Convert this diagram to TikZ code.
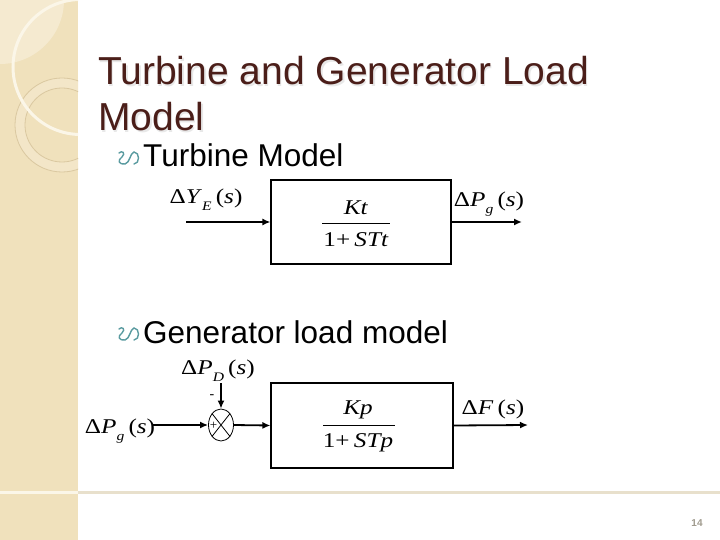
\documentclass[tikz,border=0pt]{standalone}
\usepackage{fontspec}
\usepackage{graphicx}
\setmainfont{Liberation Sans}
\newfontfamily\tms{Liberation Serif}
\usetikzlibrary{arrows.meta,shapes.geometric}
\definecolor{stripc}{RGB}{240,225,188}
\definecolor{striplight}{RGB}{245,234,208}
\definecolor{arcwhite}{RGB}{251,246,232}
\definecolor{ringline}{RGB}{218,200,160}
\definecolor{ringfill}{RGB}{243,230,200}
\definecolor{rulec}{RGB}{232,224,204}
\definecolor{titlec}{RGB}{75,30,25}
\definecolor{bulletc}{RGB}{90,155,160}
\definecolor{pagec}{RGB}{160,155,142}
\newcommand\eqf{\tms\fontsize{21}{21}\selectfont}
\newcommand\sx[1]{\scalebox{1.2}[1]{#1}}
\newcommand\sub[1]{\raisebox{-0.35em}{\fontsize{13}{13}\selectfont\textit{#1}}}
\tikzset{
  arr/.style={line width=1.8pt,-{Latex[length=8pt,width=7pt]}},
  blockbox/.style={draw,line width=1.1pt,rectangle,inner sep=0pt},
  eqlabel/.style={inner sep=0pt,font=\eqf},
  bullettext/.style={anchor=base west,inner sep=0pt,font=\fontsize{31.5}{31.5}\selectfont},
  bulletmark/.style={bulletc,line width=1.4pt,line cap=round},
  titletext/.style={anchor=base west,inner sep=0pt,font=\fontsize{39}{39}\selectfont}
}
\begin{document}
\begin{tikzpicture}[x=1pt,y=-1pt]
\useasboundingbox (0,0) rectangle (720,540);
\fill[white] (0,0) rectangle (720,540);
% left strip
\fill[stripc] (0,0) rectangle (78,540);
\begin{scope}
  \clip (0,0) rectangle (78,540);
  \fill[striplight] (0,0) circle (64);
  \fill[ringfill,even odd rule] (62,125) circle (47) (62,125) circle (37);
  \draw[ringline,line width=0.8pt] (62,125) circle (47) (62,125) circle (37);
  \draw[arcwhite,line width=3pt] (80.5,67) circle (67.5);
  \draw[arcwhite,line width=3pt] (0,492) -- (78,492);
\end{scope}
\draw[rulec,line width=3pt] (78,492) -- (720,492);
% title
\node[titletext,text=black!9] at (99.5,86.5) {Turbine and Generator Load};
\node[titletext,text=black!9] at (99.5,132.5) {Model};
\node[titletext,text=titlec] (t1) at (98,85) {Turbine and Generator Load};
\node[titletext,text=titlec] (t2) at (98,131) {Model};
% bullets (curly loop marks)
\foreach \by in {0,176}{
  \draw[bulletmark] (119,153+\by) .. controls (122,150+\by) and (126,153+\by) .. (122,157+\by)
    .. controls (117,160+\by) and (119,165+\by) .. (125,164+\by)
    .. controls (130,163+\by) and (130,153+\by) .. (134,152+\by)
    .. controls (140,152+\by) and (140,164+\by) .. (134,164+\by);
}
\node[bullettext] (h1) at (143,167) {Turbine Model};
\node[bullettext] (h2) at (143,343) {Generator load model};
% turbine model
\node[blockbox,minimum width=180pt,minimum height=84pt] (tb) at (361,222) {};
\coordinate (tin) at (186,222);
\coordinate (tout) at (522,222);
\draw[arr] (tin) -- (tb.west);
\draw[arr] (tb.east) -- (tout);
\node[eqlabel] (ly) at (206,200) {\sx{Δ\textit{Y}\sub{E}\,(\textit{s})}};
\node[eqlabel] (lpg) at (489,204) {\sx{Δ\textit{P}\sub{g}\,(\textit{s})}};
\node[eqlabel] (tnum) at (356,208) {\sx{\textit{Kt}}};
\node[eqlabel] (tden) at (356,240) {\sx{1+\,\textit{STt}}};
\draw[line width=0.6pt] (322,223.5) -- (390,223.5);
% generator load model
\node[blockbox,minimum width=182pt,minimum height=85pt] (gb) at (362,425.5) {};
\node[draw,ellipse,line width=0.8pt,minimum width=25pt,minimum height=32pt,inner sep=0pt] (sum) at (221,425) {};
\draw[line width=0.8pt] (sum.north east) -- (sum.south west) (sum.north west) -- (sum.south east);
\node[inner sep=0pt,font=\tms\fontsize{13}{13}\selectfont] (plus) at (213.5,426) {+};
\node[inner sep=0pt,font=\tms\fontsize{14}{14}\selectfont] (minus) at (212,397) {-};
\node[eqlabel] (lpg2) at (120,431) {\sx{Δ\textit{P}\sub{g}\,(\textit{s})}};
\node[eqlabel] (lpd) at (218,371) {\sx{Δ\textit{P}\sub{D}\,(\textit{s})}};
\node[eqlabel] (lf) at (493,409) {\sx{Δ\textit{F}\,(\textit{s})}};
\coordinate (gin) at (152,425);
\coordinate (pdtop) at (221,383);
\coordinate (gout) at (528,425);
\draw[arr] (gin) -- (sum.west);
\draw[arr] (pdtop) -- (sum.north);
\draw[arr] (sum.east) -- (gb.west);
\draw[arr] (gb.east) -- (gout);
\node[eqlabel] (gnum) at (358,410) {\sx{\textit{Kp}}};
\node[eqlabel] (gden) at (358,443) {\sx{1+\,\textit{STp}}};
\draw[line width=0.6pt] (323,425) -- (395,425);
% page number
\node[inner sep=0pt,text=pagec,font=\bfseries\fontsize{10}{10}\selectfont] (pg) at (697,523) {14};
\end{tikzpicture}
\end{document}
